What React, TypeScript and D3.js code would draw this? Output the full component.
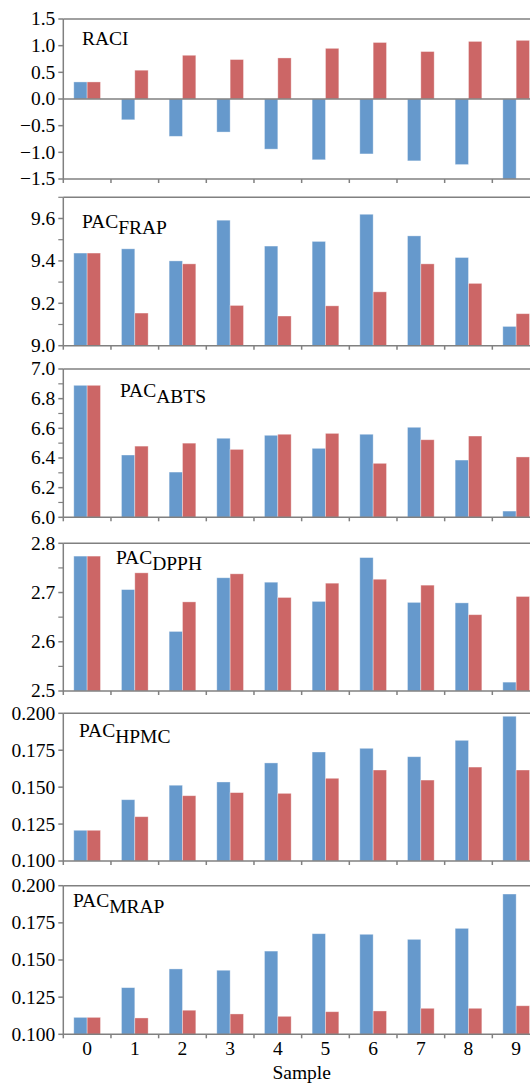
import React from "react";
import * as d3 from "d3";

const samples = [0, 1, 2, 3, 4, 5, 6, 7, 8, 9];

const raciA = [0.32, -0.39, -0.70, -0.62, -0.94, -1.14, -1.03, -1.16, -1.23, -1.50];
const raciB = [0.32, 0.54, 0.82, 0.74, 0.77, 0.95, 1.06, 0.89, 1.08, 1.10];
const frapA = [9.437, 9.457, 9.400, 9.592, 9.470, 9.492, 9.620, 9.518, 9.416, 9.091];
const frapB = [9.437, 9.154, 9.386, 9.190, 9.140, 9.188, 9.254, 9.386, 9.294, 9.151];
const abtsA = [6.89, 6.42, 6.305, 6.533, 6.553, 6.465, 6.56, 6.607, 6.386, 6.042];
const abtsB = [6.89, 6.48, 6.50, 6.458, 6.56, 6.566, 6.364, 6.523, 6.548, 6.407];
const dpphA = [2.774, 2.706, 2.621, 2.730, 2.721, 2.682, 2.771, 2.680, 2.679, 2.518];
const dpphB = [2.774, 2.740, 2.681, 2.738, 2.690, 2.719, 2.727, 2.715, 2.655, 2.692];
const hpmcA = [0.1208, 0.1415, 0.1513, 0.1535, 0.1664, 0.1738, 0.1763, 0.1706, 0.1817, 0.198];
const hpmcB = [0.1208, 0.130, 0.1442, 0.1463, 0.1458, 0.156, 0.1616, 0.1548, 0.1636, 0.1616];
const mrapA = [0.1114, 0.1314, 0.144, 0.1431, 0.156, 0.1677, 0.1673, 0.1639, 0.1713, 0.1944];
const mrapB = [0.1114, 0.111, 0.1162, 0.1137, 0.1121, 0.1152, 0.1157, 0.1175, 0.1175, 0.1192];

const raciTicks = [-1.5, -1.0, -0.5, 0.0, 0.5, 1.0, 1.5];
const frapTicks = [9.0, 9.2, 9.4, 9.6];
const frapMinor = [9.1, 9.3, 9.5, 9.7];
const abtsTicks = [6.0, 6.2, 6.4, 6.6, 6.8, 7.0];
const abtsMinor = [6.1, 6.3, 6.5, 6.7, 6.9];
const dpphTicks = [2.5, 2.6, 2.7, 2.8];
const dpphMinor = [2.55, 2.65, 2.75];
const pacTicks = [0.1, 0.125, 0.15, 0.175, 0.2];

const BLUE = "#6699CC";
const RED = "#CC6666";
const AXIS = "#808080";
const FONT = "Liberation Serif, Times New Roman, serif";

const X0 = 63.3;
const X1 = 540;

const panels = [
  { a: raciA, b: raciB, top: 19, bottom: 179, domain: [-1.5, 1.5], ticks: raciTicks, minor: [], fmt: ".1f", base: 0, main: "RACI", sub: "", lx: 82, ly: 45 },
  { a: frapA, b: frapB, top: 197.3, bottom: 345.7, domain: [9.0, 9.7], ticks: frapTicks, minor: frapMinor, fmt: ".1f", base: 9.0, main: "PAC", sub: "FRAP", lx: 82, ly: 228 },
  { a: abtsA, b: abtsB, top: 369, bottom: 517.3, domain: [6.0, 7.0], ticks: abtsTicks, minor: abtsMinor, fmt: ".1f", base: 6.0, main: "PAC", sub: "ABTS", lx: 120, ly: 397 },
  { a: dpphA, b: dpphB, top: 543.3, bottom: 691, domain: [2.5, 2.8], ticks: dpphTicks, minor: dpphMinor, fmt: ".1f", base: 2.5, main: "PAC", sub: "DPPH", lx: 116, ly: 564 },
  { a: hpmcA, b: hpmcB, top: 713.3, bottom: 861, domain: [0.1, 0.2], ticks: pacTicks, minor: [], fmt: ".3f", base: 0.1, main: "PAC", sub: "HPMC", lx: 79, ly: 737 },
  { a: mrapA, b: mrapB, top: 885.7, bottom: 1034.3, domain: [0.1, 0.2], ticks: pacTicks, minor: [], fmt: ".3f", base: 0.1, main: "PAC", sub: "MRAP", lx: 73, ly: 907 },
];

const x = d3.scaleBand<number>().domain(samples).range([X0, X1]).paddingInner(0.44).paddingOuter(0.22);
const x1 = d3.scaleBand<string>().domain(["a", "b"]).range([0, x.bandwidth()]);
const boundaries = d3.range(samples.length + 1).map((i) => X0 + i * x.step());

function Panel({ p, last }: { p: any; last: boolean }) {
  const y = d3.scaleLinear().domain(p.domain).range([p.bottom, p.top]);
  const f = d3.format(p.fmt);
  const y0 = y(p.base);
  return (
    <g>
      {samples.map((s, i) => (
        <g key={s}>
          {[["a", p.a[i], BLUE], ["b", p.b[i], RED]].map(([k, v, c]: any) => (
            <rect
              key={k}
              x={(x(s) as number) + (x1(k) as number)}
              width={x1.bandwidth()}
              y={Math.min(y(v), y0)}
              height={Math.abs(y(v) - y0)}
              fill={c}
              stroke="#ffffff"
              strokeOpacity={0.45}
              strokeWidth={0.8}
            />
          ))}
        </g>
      ))}
      <line x1={X0} x2={X1} y1={p.top} y2={p.top} stroke={AXIS} strokeWidth={1.5} />
      {p.base !== p.domain[0] && (
        <line x1={X0} x2={X1} y1={y0} y2={y0} stroke={AXIS} strokeWidth={1.5} />
      )}
      <line x1={X0} x2={X1} y1={p.bottom} y2={p.bottom} stroke={AXIS} strokeWidth={1.5} />
      <line x1={X0} x2={X0} y1={p.top} y2={p.bottom} stroke={AXIS} strokeWidth={1.5} />
      {boundaries.map((bx, i) => (
        <line key={i} x1={bx} x2={bx} y1={p.bottom} y2={p.bottom + 4} stroke={AXIS} strokeWidth={1.5} />
      ))}
      {p.minor.map((t: number) => (
        <line key={"m" + t} x1={X0 - 5} x2={X0} y1={y(t)} y2={y(t)} stroke={AXIS} strokeWidth={1.2} />
      ))}
      {p.ticks.map((t: number) => (
        <g key={t}>
          <line x1={X0 - 5} x2={X0} y1={y(t)} y2={y(t)} stroke={AXIS} strokeWidth={1.5} />
          <text x={X0 - 8} y={y(t)} dy="0.33em" textAnchor="end" fontSize={19.5} fontFamily={FONT} fill="#000">
            {f(t)}
          </text>
        </g>
      ))}
      <text x={p.lx} y={p.ly} fontSize={19.5} fontFamily={FONT} fill="#000">
        {p.main}
        {p.sub && <tspan dy={6}>{p.sub}</tspan>}
      </text>
      {last &&
        samples.map((s) => (
          <text key={"xl" + s} x={(x(s) as number) + x.bandwidth() / 2} y={p.bottom + 21} textAnchor="middle" fontSize={19.5} fontFamily={FONT} fill="#000">
            {s}
          </text>
        ))}
    </g>
  );
}

export default function App() {
  return (
    <svg width={530} height={1084} style={{ position: "absolute", left: 0, top: 0, background: "#fff" }}>
      <rect x={0} y={0} width={530} height={1084} fill="#fff" />
      {panels.map((p, i) => (
        <Panel key={i} p={p} last={i === panels.length - 1} />
      ))}
      <text x={(X0 + X1) / 2} y={1079} textAnchor="middle" fontSize={19.5} fontFamily={FONT} fill="#000">
        Sample
      </text>
    </svg>
  );
}
